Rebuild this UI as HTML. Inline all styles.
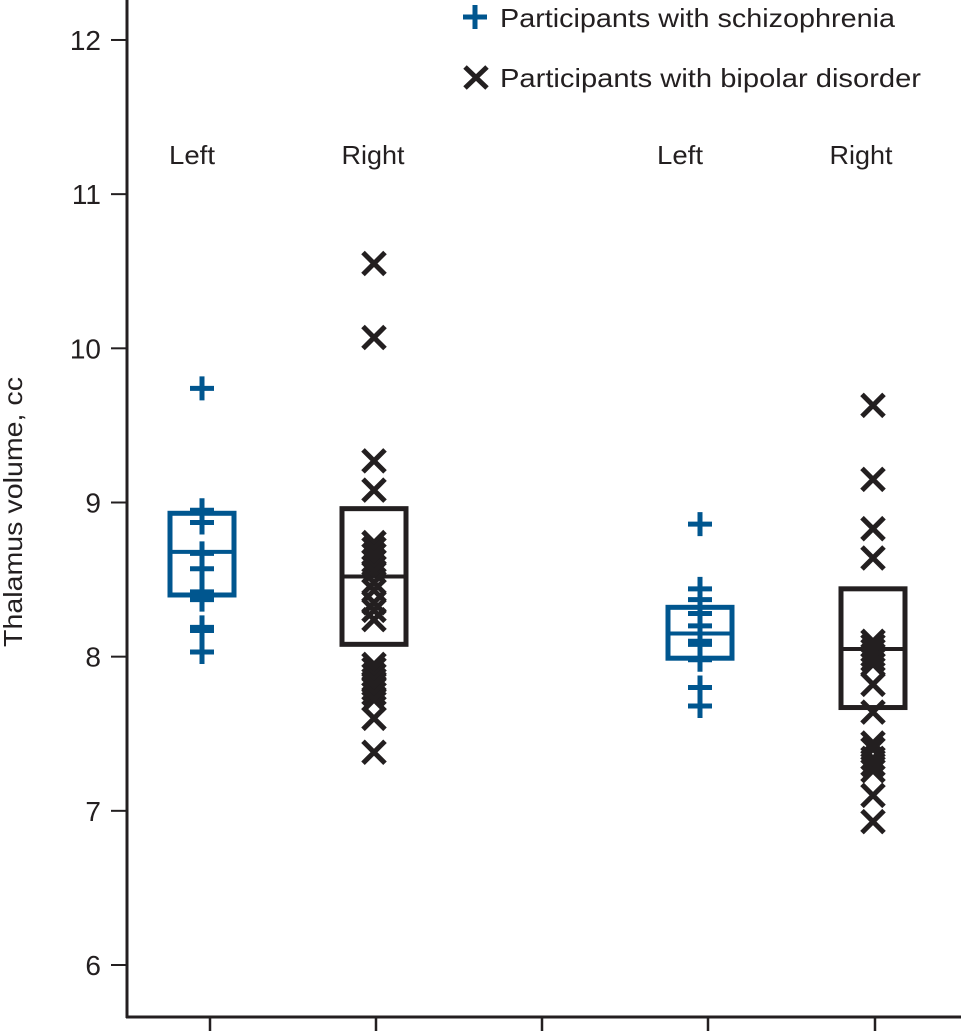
<!DOCTYPE html>
<html><head><meta charset="utf-8"><style>
html,body{margin:0;padding:0;background:#fff;}
svg{display:block;font-family:"Liberation Sans",sans-serif;}
</style></head><body>
<svg id="chart" width="961" height="1034" viewBox="0 0 961 1034">
<g id="axes"></g><g id="marks"></g>
<g>
<g>
<path d="M463 17H487M475 5V29" stroke="#00568f" stroke-width="5" fill="none"/>
<text x="500" y="27" font-size="26" textLength="395" lengthAdjust="spacingAndGlyphs" fill="#231f20">Participants with schizophrenia</text></g>
<g>
<path d="M465 67L487 88M487 67L465 88" stroke="#231f20" stroke-width="5" fill="none"/>
<text x="500" y="87" font-size="26" textLength="421" lengthAdjust="spacingAndGlyphs" fill="#231f20">Participants with bipolar disorder</text></g>
</g>
<text transform="translate(22,512) rotate(-90)" text-anchor="middle" font-size="26" textLength="270" lengthAdjust="spacingAndGlyphs" fill="#231f20">Thalamus volume, cc</text>
</svg>
<script>
const yTicks=[6,7,8,9,10,11,12];
const groupLabels=["Left","Right","Left","Right"];
const groupType=["schiz","bipolar","schiz","bipolar"];
const schizLeft=[9.74,8.95,8.87,8.67,8.57,8.42,8.37,8.19,8.17,8.03];
const bipolarRight=[10.55,10.07,9.27,9.08,8.74,8.70,8.66,8.62,8.58,8.55,8.48,8.43,8.35,8.30,8.24,7.95,7.92,7.88,7.85,7.82,7.79,7.76,7.72,7.60,7.38];
const schizLeft2=[8.86,8.44,8.37,8.28,8.20,8.10,8.08,7.98,7.80,7.68];
const bipolarRight2=[9.63,9.15,8.83,8.64,8.10,8.07,8.04,8.01,7.98,7.95,7.82,7.64,7.44,7.40,7.34,7.30,7.26,7.10,6.93];
const boxLow=[8.40,8.08,7.99,7.67];
const boxMedian=[8.68,8.52,8.15,8.05];
const boxHigh=[8.93,8.96,8.32,8.44];
const series=[schizLeft,bipolarRight,schizLeft2,bipolarRight2];

const NS="http://www.w3.org/2000/svg";
const y=v=>965-(v-6)*154.17;
const xPos=i=>[210,376,708,875][i];
const labelX=[192,373,680,861];
const labelW=[46,63,46,63];
const axisTicksX=[210,376,542,708,875];
function mk(tag,attrs,parent){const e=document.createElementNS(NS,tag);for(const k in attrs)e.setAttribute(k,attrs[k]);parent.appendChild(e);return e;}
const axes=document.getElementById('axes'),marks=document.getElementById('marks');
let l=mk('line',{x1:127,y1:0,x2:127,y2:1018,stroke:'#231f20','stroke-width':3},axes);


l=mk('line',{x1:126,y1:1017,x2:961,y2:1017,stroke:'#231f20','stroke-width':3},axes);


yTicks.forEach(t=>{
 const tk=mk('line',{x1:111,x2:127,y1:y(t),y2:y(t),stroke:'#231f20','stroke-width':2},axes);
 
 
 const tx=mk('text',{x:101,y:y(t)+10,'text-anchor':'end','font-size':28,fill:'#231f20'},axes);
 tx.textContent=t;
 
 
});
axisTicksX.forEach(xx=>{
 const tk=mk('line',{x1:xx,x2:xx,y1:1017,y2:1031,stroke:'#231f20','stroke-width':2.5},axes);
 
 
});
groupLabels.forEach((g,i)=>{
 const tx=mk('text',{x:labelX[i]-labelW[i]/2,y:164,'font-size':26,textLength:labelW[i],lengthAdjust:'spacingAndGlyphs',fill:'#231f20'},axes);
 tx.textContent=g;
 
 
});
series.forEach((vals,i)=>{
 const blue=groupType[i]==='schiz';
 const col=blue?'#00568f':'#231f20';
 const cx=xPos(i)-(blue?8:2);
 const half=32;
 const b=mk('rect',{x:cx-half,y:y(boxHigh[i]),width:half*2,height:y(boxLow[i])-y(boxHigh[i]),fill:'none',stroke:col,'stroke-width':5},marks);
 
 
 const m=mk('line',{x1:cx-half,x2:cx+half,y1:y(boxMedian[i]),y2:y(boxMedian[i]),stroke:col,'stroke-width':4},marks);
 
 
 vals.forEach(v=>{
  const py=y(v);
  const d=blue?`M${cx-12} ${py}H${cx+12}M${cx} ${py-12}V${py+12}`:`M${cx-11} ${py-11}L${cx+11} ${py+11}M${cx+11} ${py-11}L${cx-11} ${py+11}`;
  const p=mk('path',{d:d,stroke:col,'stroke-width':5,fill:'none'},marks);
  
  
 });
});
</script>
</body></html>
